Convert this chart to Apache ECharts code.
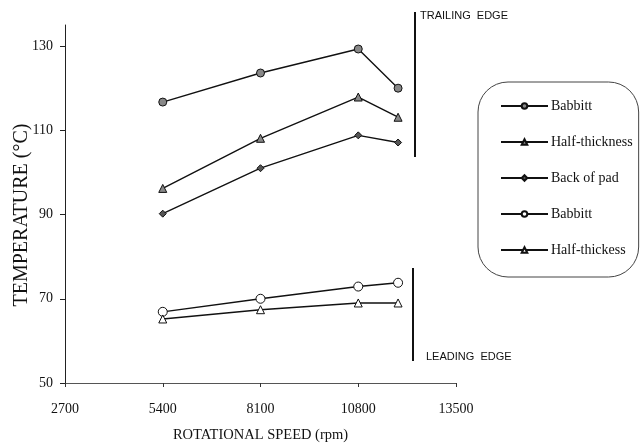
<!DOCTYPE html>
<html>
<head>
<meta charset="utf-8">
<script src="https://cdn.jsdelivr.net/npm/echarts@6/dist/echarts.min.js"></script>
<style>html,body{margin:0;padding:0;background:#fff;}#c{width:640px;height:443px;}</style>
</head>
<body>
<div id="c"></div>
<script>
const speeds = [5400, 8100, 10800, 11900];
const trailBabbitt = [116.7, 123.6, 129.3, 120.0];
const trailHalf = [96.2, 108.1, 117.9, 113.1];
const backOfPad = [90.2, 101.0, 108.8, 107.1];
const leadBabbitt = [66.9, 70.0, 72.9, 73.8];
const leadHalf = [65.2, 67.4, 69.0, 69.0];
const seriesNames = ['Babbitt', 'Half-thickness', 'Back of pad', 'Babbitt ', 'Half-thickess'];
const xTicks = [2700, 5400, 8100, 10800, 13500];
const yTicks = [50, 70, 90, 110, 130];

const serif = 'Liberation Serif';
function pairs(vals){ return speeds.map((s,i)=>[s, vals[i]]); }
function mk(name, vals, symbol, size, fill){
  return {
    name, type:'line', data: pairs(vals), symbol, symbolSize:size,
    lineStyle:{color:'#111', width:1.4},
    itemStyle:{color:fill, borderColor:'#111', borderWidth:1},
    emphasis:{disabled:true}, animation:false, z:3
  };
}
const chart = echarts.init(document.getElementById('c'));
chart.setOption({
  animation:false,
  backgroundColor:'#fff',
  grid:{left:65, right:184, top:25, bottom:60, containLabel:false, outerBoundsMode:'none'},
  xAxis:{
    type:'value', min:2700, max:13500, interval:2700,
    name:'ROTATIONAL SPEED (rpm)', nameLocation:'middle', nameGap:45, nameMoveOverlap:false,
    nameTextStyle:{fontFamily:serif, fontSize:14.5, color:'#111'},
    axisLine:{show:true, lineStyle:{color:'#555', width:1}},
    axisTick:{show:true, length:4, lineStyle:{color:'#333'}, customValues:xTicks},
    axisLabel:{fontFamily:serif, fontSize:14, color:'#111', margin:19, customValues:xTicks, formatter:v=>String(v)},
    splitLine:{show:false}
  },
  yAxis:{
    type:'value', min:50, max:135, interval:20,
    name:'TEMPERATURE (°C)', nameLocation:'middle', nameGap:33, nameRotate:90, nameMoveOverlap:false,
    nameTextStyle:{fontFamily:serif, fontSize:20, color:'#111', padding:[0,22,0,0]},
    axisLine:{show:true, lineStyle:{color:'#222', width:1}},
    axisTick:{show:true, length:5, lineStyle:{color:'#222'}, customValues:yTicks},
    axisLabel:{fontFamily:serif, fontSize:14, color:'#111', margin:12, customValues:yTicks, formatter:v=>String(v)},
    splitLine:{show:false}
  },
  legend:{
    orient:'vertical', left:478, top:82,
    data: seriesNames,
    formatter: n => n.trim(),
    backgroundColor:'#fff', borderColor:'#444', borderWidth:1, borderRadius:30,
    padding:[17, 6, 20, 22], itemGap:22, itemWidth:47, itemHeight:7,
    textStyle:{fontFamily:serif, fontSize:14, color:'#111', padding:[0,0,0,-2]},
    selectedMode:false
  },
  series:[
    mk(seriesNames[0], trailBabbitt, 'circle', 8, '#888'),
    mk(seriesNames[1], trailHalf, 'triangle', 8, '#888'),
    mk(seriesNames[2], backOfPad, 'diamond', 7, '#555'),
    mk(seriesNames[3], leadBabbitt, 'circle', 9, '#fff'),
    mk(seriesNames[4], leadHalf, 'triangle', 8, '#fff')
  ],
  graphic:[
    {type:'line', shape:{x1:415, y1:12, x2:415, y2:157}, style:{stroke:'#111', lineWidth:2}},
    {type:'line', shape:{x1:413, y1:268, x2:413, y2:361}, style:{stroke:'#111', lineWidth:2}},
    {type:'text', left:420, top:10, style:{text:'TRAILING  EDGE', font:'11px "Liberation Sans Narrow", "Liberation Sans"', fill:'#111'}},
    {type:'text', left:426, top:351, style:{text:'LEADING  EDGE', font:'11px "Liberation Sans Narrow", "Liberation Sans"', fill:'#111'}}
  ]
});
</script>
</body>
</html>
